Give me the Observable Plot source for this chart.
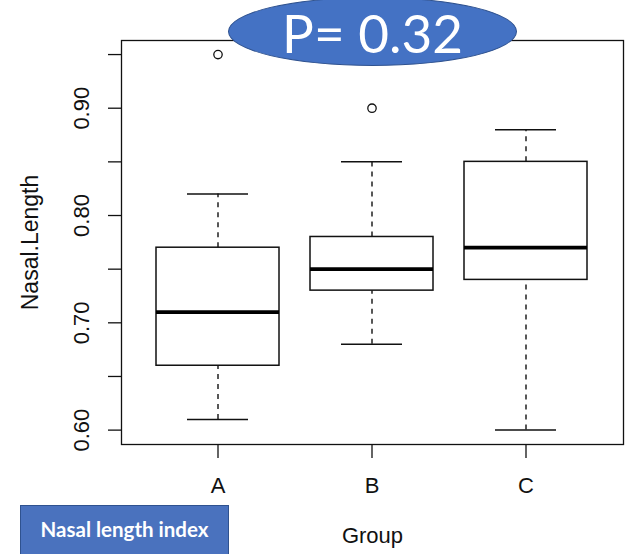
<!DOCTYPE html>
<html>
<head>
<meta charset="utf-8">
<script src="https://cdn.jsdelivr.net/npm/d3@7"></script>
<script src="https://cdn.jsdelivr.net/npm/@observablehq/plot@0.6"></script>
<style>
  html, body { margin: 0; padding: 0; background: #fff; }
  #wrap { position: relative; width: 627px; height: 554px; overflow: hidden; }
  #chart { position: absolute; left: 0; top: 0; }
  .pval {
    position: absolute; left: 228px; top: -3px; width: 289px; height: 69px;
    box-sizing: border-box; border-radius: 50%;
    background: #4472c4; border: 1.5px solid #2f528f;
    color: #fff; font-family: Lato, "Open Sans", sans-serif; font-size: 53px;
    display: flex; align-items: center; justify-content: center; line-height: 1;
    padding-top: 2px;
  }
  .tag {
    position: absolute; left: 20px; top: 505px; width: 209px; height: 52px;
    box-sizing: border-box; background: #4a72be; border: 1px solid #2f528f;
    color: #fff; font-family: Lato, "Open Sans", sans-serif; font-size: 20.5px; font-weight: bold;
    display: flex; align-items: center; justify-content: center; padding-bottom: 4px;
  }
</style>
</head>
<body>
<div id="wrap">
  <div id="chart"></div>
  <div class="pval">P= 0.32</div>
  <div class="tag">Nasal length index</div>
</div>
<script>
// ---- data ----
const groups = ["A", "B", "C"];
const whiskerLow = [0.61, 0.68, 0.60];
const q1 = [0.66, 0.73, 0.74];
const median = [0.71, 0.75, 0.77];
const q3 = [0.77, 0.78, 0.85];
const whiskerHigh = [0.82, 0.85, 0.88];
const outlierGroups = ["A", "B"];
const outlierValues = [0.95, 0.90];
const yTicks = [0.60, 0.65, 0.70, 0.75, 0.80, 0.85, 0.90, 0.95];
const yLabels = [0.60, 0.70, 0.80, 0.90];
const yTitle = "Nasal.Length";
const xTitle = "Group";

const boxes = groups.map((g, i) => ({
  group: g, lo: whiskerLow[i], q1: q1[i], med: median[i], q3: q3[i], hi: whiskerHigh[i]
}));
const outliers = outlierGroups.map((g, i) => ({group: g, value: outlierValues[i]}));

const dash = "5,5";
const plot = Plot.plot({
  width: 627,
  height: 554,
  marginLeft: 121,
  marginRight: 4,
  marginTop: 40,
  marginBottom: 110,
  style: {fontFamily: "'Liberation Sans', Arial, Helvetica, sans-serif", fontSize: "22px", color: "#111", background: "#fff"},
  x: {type: "band", domain: groups, paddingInner: 0.2, paddingOuter: 0.22, label: null},
  y: {domain: [0.5866, 0.9631], label: null},
  marks: [
    Plot.axisX({tickSize: 14, tickPadding: 19, fontSize: 22, label: null, strokeWidth: 1.3}),
    Plot.axisY({ticks: yTicks, tickSize: 13, tickFormat: () => "", label: null, strokeWidth: 1.3}),
    Plot.text(yLabels, {y: d => d, text: d => d.toFixed(2), frameAnchor: "left", textAnchor: "middle", dx: -40, rotate: -90, fontSize: 22}),
    Plot.text([yTitle], {frameAnchor: "left", textAnchor: "middle", dx: -91, rotate: -90, fontSize: 23}),
    Plot.text([xTitle], {frameAnchor: "bottom", dy: 98, fontSize: 22}),
    // whiskers
    Plot.ruleX(boxes, {x: "group", y1: "q3", y2: "hi", stroke: "#111", strokeWidth: 1.4, strokeDasharray: dash}),
    Plot.ruleX(boxes, {x: "group", y1: "lo", y2: "q1", stroke: "#111", strokeWidth: 1.4, strokeDasharray: dash}),
    Plot.tickY(boxes, {x: "group", y: "hi", stroke: "#111", strokeWidth: 1.5, insetLeft: 31, insetRight: 31}),
    Plot.tickY(boxes, {x: "group", y: "lo", stroke: "#111", strokeWidth: 1.5, insetLeft: 31, insetRight: 31}),
    // boxes
    Plot.barY(boxes, {x: "group", y1: "q1", y2: "q3", fill: "#fff", stroke: "#111", strokeWidth: 1.5}),
    Plot.tickY(boxes, {x: "group", y: "med", stroke: "#000", strokeWidth: 3.7}),
    // outliers
    Plot.dot(outliers, {x: "group", y: "value", r: 4.2, stroke: "#111", strokeWidth: 1.3, fill: "none"}),
    Plot.frame({stroke: "#111", strokeWidth: 1.3})
  ]
});
document.getElementById("chart").appendChild(plot);
</script>
</body>
</html>
